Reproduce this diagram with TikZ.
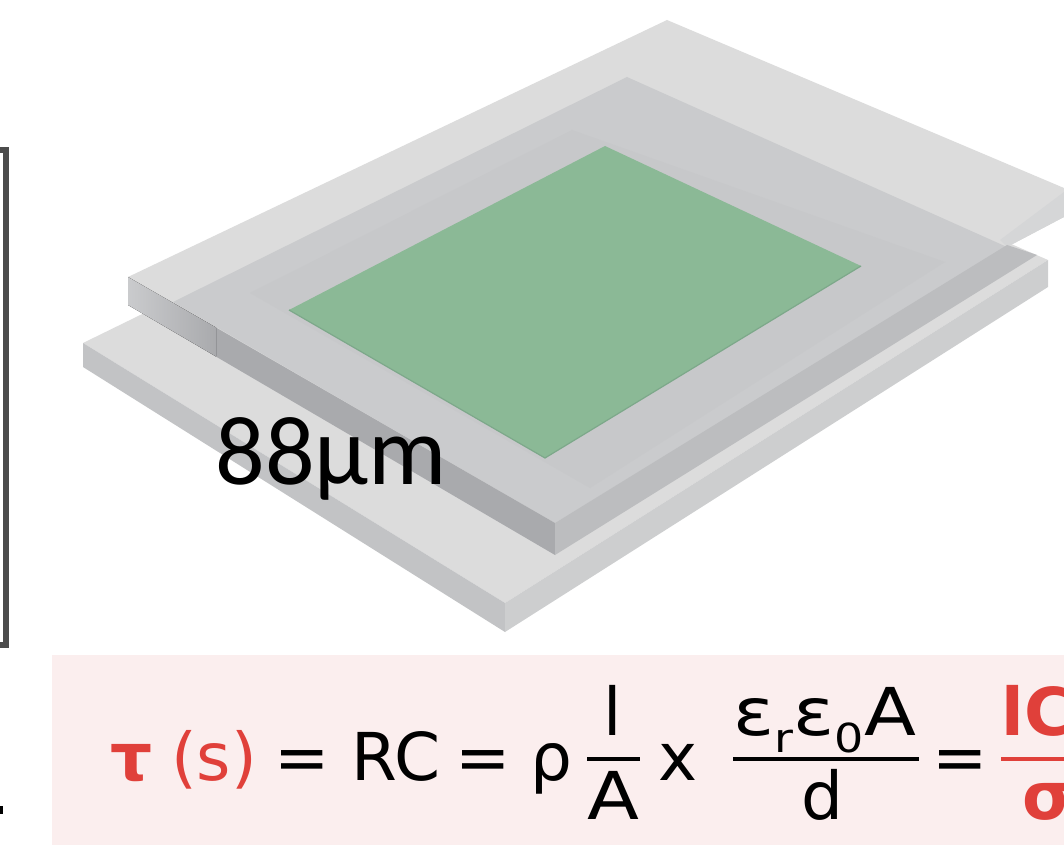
\documentclass[tikz,border=0pt]{standalone}
\usepackage{fontspec}
\setmainfont{Carlito}
\newfontfamily\formulafont{DejaVu Sans}
\definecolor{plateTop}{HTML}{DCDCDC}
\definecolor{plateOver}{HTML}{CACBCD}
\definecolor{plateHalo}{HTML}{C7C8CA}
\definecolor{plateEdge}{HTML}{D5D6D7}
\definecolor{sideLeft}{HTML}{C2C3C5}
\definecolor{sideFront}{HTML}{CDCECF}
\definecolor{sideDark}{HTML}{A9AAAD}
\definecolor{sideMid}{HTML}{BCBDBF}
\definecolor{gateGreen}{HTML}{8BB996}
\definecolor{gateEdge}{HTML}{7DA88A}
\definecolor{panelPink}{HTML}{FBEEEE}
\definecolor{tauRed}{HTML}{E0403A}
\begin{document}
\begin{tikzpicture}[x=0.5pt,y=-0.5pt,
	every node/.style = {inner sep=0pt, font=\formulafont\fontsize{33}{33}\selectfont},
	term/.style = {anchor=base},
	redterm/.style = {term, text=tauRed},
	boldred/.style = {redterm, font=\formulafont\bfseries\fontsize{33}{33}\selectfont},
	fracbar/.style = {line width=1.8pt},
	bigtext/.style = {anchor=base west, font=\fontsize{49}{49}\selectfont}]
	\useasboundingbox (0,0) rectangle (1064,860);
	\clip (0,0) rectangle (1064,860);
	% bracket on the left
	\draw[line width=3pt, color=black!70] (0,150) -- (6,150) -- (6,645) -- (0,645);
	\fill[black] (0,806) rectangle (3,814);
	% lower plate
	\fill[plateTop] (83,343) -- (627,77) -- (1048,260) -- (505,603) -- cycle;
	\fill[sideLeft] (83,343) -- (505,603) -- (505,632) -- (83,367) -- cycle;
	\fill[sideFront] (505,603) -- (1048,260) -- (1048,287) -- (505,632) -- cycle;
	% upper plate
	\fill[plateTop] (128,277) -- (667,20) -- (1064,188) -- (1064,217) -- (1007,247) -- (555,523) -- cycle;
	\fill[plateEdge] (1000,240) -- (1064,192) -- (1064,217) -- (1007,247) -- cycle;
	\fill[plateOver] (173,302) -- (627,77) -- (1007,247) -- (555,523) -- cycle;
	\fill[plateHalo] (250,293) -- (572,130) -- (945,262) -- (590,488) -- cycle;
	\fill[sideDark] (215,327) -- (555,523) -- (555,555) -- (215,356) -- cycle;
	\fill[left color=plateOver, right color=sideDark] (128,277) -- (216,327.5) -- (216,356.5) -- (128,305) -- cycle;
	\fill[sideMid] (555,523) -- (1007,245) -- (1037,255) -- (555,555) -- cycle;
	% green electrode
	\fill[gateGreen] (289,310) -- (605,146) -- (861,266) -- (545,458) -- cycle;
	\draw[gateEdge, line width=0.6pt] (289,310) -- (545,458) -- (861,266);
	\node[bigtext] (size) at (215,484) {88µm};
	% formula panel
	\fill[panelPink] (52,655) rectangle (1064,845);
	\node[boldred] (tau) at (132,780) {τ};
	\node[redterm] (sec) at (214,780) {(s)};
	\node[term] (eqa) at (302,780) {=};
	\node[term] (rc) at (396,780) {RC};
	\node[term] (eqb) at (483,780) {=};
	\node[term] (rho) at (551,780) {ρ};
	\node[term] (len) at (613,735) {l};
	\node[term] (area) at (613,819) {\scalebox{1.15}[1]{A}};
	\node[term] (times) at (678,780) {x};
	\node[term] (perm) at (825,735) {\scalebox{1.15}[1]{ε\raisebox{-8.5pt}{\fontsize{20}{20}\selectfont r}ε\raisebox{-8.5pt}{\fontsize{20}{20}\selectfont 0}A}};
	\node[term] (dist) at (822,819) {d};
	\node[term] (eqc) at (960,780) {=};
	\node[boldred, anchor=base west] (lc) at (1001,735) {lC};
	\node[boldred, anchor=base west] (sig) at (1022,819) {σ};
	\draw[fracbar] (587,759) -- (640,759);
	\draw[fracbar] (733,759) -- (919,759);
	\draw[fracbar, color=tauRed] (1001,759) -- (1064,759);
\end{tikzpicture}
\end{document}
